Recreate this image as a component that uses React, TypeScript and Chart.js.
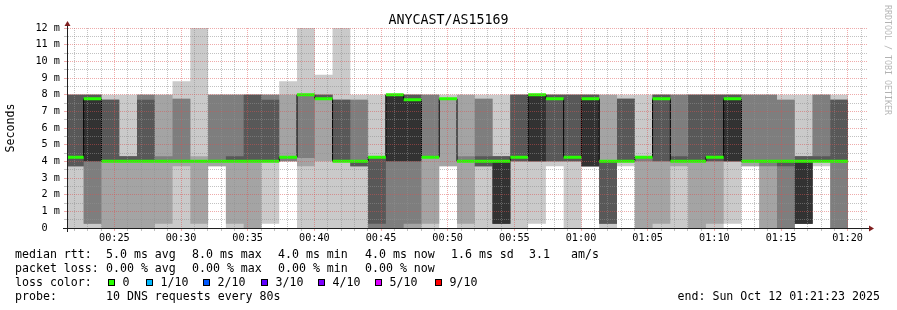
import React, { useEffect, useRef } from 'react';
import { Chart, registerables } from 'chart.js';

Chart.register(...registerables);

// ---------- data ----------
// start time of every 80 s probe round (bar)
const barStart = [
  '00:21:22', '00:22:42', '00:24:02', '00:25:22', '00:26:42', '00:28:02', '00:29:22', '00:30:42',
  '00:32:02', '00:33:22', '00:34:42', '00:36:02', '00:37:22', '00:38:42', '00:40:02', '00:41:22',
  '00:42:42', '00:44:02', '00:45:22', '00:46:42', '00:48:02', '00:49:22', '00:50:42', '00:52:02',
  '00:53:22', '00:54:42', '00:56:02', '00:57:22', '00:58:42', '01:00:02', '01:01:22', '01:02:42',
  '01:04:02', '01:05:22', '01:06:42', '01:08:02', '01:09:22', '01:10:42', '01:12:02', '01:13:22',
  '01:14:42', '01:16:02', '01:17:22', '01:18:42',
];
const lastBarEnd = '01:20:02';
const axisStart = '00:21:27';
const axisEnd = '01:21:27';

// sorted ping results (ms), rank 1 (fastest) .. rank 10 (slowest)
const ping1 = [0, 0, 0, 0, 0, 0, 0, 0, 3.7, 0, 0, 0.25, 4, 0, 0, 0, 0, 0, 0, 0, 0, 3.7, 0, 0, 0, 0, 0.25, 3.7, 0, 3.7, 0, 3.7, 0, 0, 0, 0, 0, 0.25, 3.7, 0, 0, 0.25, 3.7, 0];
const ping2 = [3.7, 0.25, 0, 0, 0, 0.25, 3.7, 0.25, 3.7, 0.25, 0, 4, 4, 3.7, 4, 4, 3.7, 0, 0, 0, 0.25, 3.7, 0.25, 3.7, 0.25, 4, 4, 4, 4, 3.7, 0.25, 4, 0, 0.25, 3.7, 0, 0.25, 4, 3.7, 0, 0, 0.25, 4, 0];
const ping3 = [3.7, 0.25, 4, 4, 4, 4, 4, 4, 4, 4, 4, 4, 4, 4.2, 7.7, 4, 3.7, 0, 0, 0.25, 4.3, 7.75, 4, 3.7, 0.25, 4, 4, 4, 4, 3.7, 0.25, 4, 4, 4, 4, 4, 4, 4, 4, 3.7, 0, 0.25, 4, 0];
const ping4 = [3.7, 4, 4, 4, 4, 4, 4, 4, 4, 4, 4, 4, 4.3, 8, 7.7, 4, 3.7, 0.25, 4, 4, 4.3, 7.75, 4, 3.7, 0.25, 4, 4, 4, 4, 3.7, 0.25, 4, 4.3, 4, 4, 4, 4, 4, 4, 4, 3.7, 0.25, 4, 4];
const ping5 = [4.3, 4, 4, 4, 4, 4, 4, 4, 4, 4, 4, 4, 4.3, 8, 7.7, 4, 4, 4.3, 4, 4, 4.3, 7.75, 4, 4, 0.25, 4.3, 4, 7.75, 4.3, 3.7, 4, 4, 4.3, 7.75, 4, 4, 4.3, 4, 4, 4, 4, 0.25, 4, 4];
const ping6 = [4.3, 7.75, 4, 4, 4, 4, 4, 4, 4, 4, 4, 4, 4.3, 8, 7.7, 4, 4, 4.3, 8, 7.7, 4.3, 7.75, 4, 4, 4, 4.3, 8, 7.75, 4.3, 7.75, 4, 4, 4.3, 7.75, 4, 4, 4.3, 7.75, 4, 4, 4, 4, 4, 4];
const ping7 = [8, 8, 7.7, 4.3, 7.7, 4, 4, 4, 4, 4.3, 8, 7.7, 4.3, 8, 8, 7.7, 4, 4.3, 8, 8, 4.3, 7.75, 4, 4.3, 4.3, 8, 8, 8, 8, 8, 4, 7.75, 4.3, 8, 4.3, 8, 8, 8, 4, 4, 4, 4.3, 4.3, 7.7];
const ping8 = [8, 8, 7.7, 4.3, 8, 4.3, 7.75, 4, 8, 8, 8, 8, 4.3, 8, 8, 7.7, 7.7, 4.3, 8, 8, 8, 7.75, 4.3, 7.75, 4.3, 8, 8, 8, 8, 8, 4, 7.75, 4.3, 8, 8, 8, 8, 8, 8, 8, 7.7, 4.3, 8, 7.7];
const ping9 = [8, 8, 7.7, 4.3, 8, 8, 7.75, 4.3, 8, 8, 8, 8, 8, 8, 8, 7.7, 7.7, 4.3, 8, 8, 8, 7.75, 8, 7.75, 4.3, 8, 8, 8, 8, 8, 8, 7.75, 4.3, 8, 8, 8, 8, 8, 8, 8, 7.7, 4.3, 8, 7.7];
const ping10 = [8, 8, 8, 8, 8, 8, 8.8, 12, 8, 8, 8, 8, 8.8, 12, 9.2, 12, 8, 8, 8, 8, 8, 8, 8, 8, 8, 8, 8, 8, 8, 8, 8, 8, 8, 8, 8, 8, 8, 8, 8, 8, 8, 8, 8, 8];
// median rtt (ms) of every round
const median = [4.25, 7.75, 4, 4, 4, 4, 4, 4, 4, 4, 4, 4, 4.25, 8, 7.75, 4, 4, 4.25, 8, 7.7, 4.25, 7.75, 4, 4, 4, 4.25, 8, 7.75, 4.25, 7.75, 4, 4, 4.25, 7.75, 4, 4, 4.25, 7.75, 4, 4, 4, 4, 4, 4];

// axis tick labels
const yTickLabels = ['0  ', '1 m', '2 m', '3 m', '4 m', '5 m', '6 m', '7 m', '8 m', '9 m', '10 m', '11 m', '12 m'];
const xTickLabels = ['00:25', '00:30', '00:35', '00:40', '00:45', '00:50', '00:55', '01:00', '01:05', '01:10', '01:15', '01:20'];

// legend texts
const titleText = 'ANYCAST/AS15169';
const rttLine = ['median rtt:', '5.0 ms avg', '8.0 ms max', '4.0 ms min', '4.0 ms now', '1.6 ms sd', '3.1', 'am/s'];
const lossLine = ['packet loss:', '0.00 % avg', '0.00 % max', '0.00 % min', '0.00 % now'];
const lossColorLabel = 'loss color:';
const lossColors = ['#26ff00', '#00b8ff', '#0059ff', '#5e00ff', '#7e00ff', '#dd00ff', '#ff0000'];
const lossLabels = ['0', '1/10', '2/10', '3/10', '4/10', '5/10', '9/10'];
const probeLine = ['probe:', '10 DNS requests every 80s'];
const endText = 'end: Sun Oct 12 01:21:23 2025';
const creditText = 'RRDTOOL / TOBI OETIKER';

// ---------- styling ----------
const FONT = "'DejaVu Sans Mono', monospace";
const smokeColors = ['#cacaca', '#a4a4a4', '#7e7e7e', '#585858', '#323232'];
const MINOR_GRID = 'rgba(143,143,143,0.55)';
const MAJOR_GRID = 'rgba(222,79,79,0.48)';

const toSec = (t: string) => {
  const [h, m, s] = t.split(':').map(Number);
  return h * 3600 + m * 60 + s;
};

const edges = [...barStart.map(toSec), toSec(lastBarEnd)];
const stepData = (vals: number[]) =>
  edges.map((x, i) => ({ x, y: vals[Math.min(i, vals.length - 1)] }));

const pings = [ping1, ping2, ping3, ping4, ping5, ping6, ping7, ping8, ping9, ping10];
const majorSecs = xTickLabels.map((l) => toSec(l + ':00'));
const minuteTicks: number[] = [];
for (let s = Math.ceil(toSec(axisStart) / 60) * 60; s <= toSec(axisEnd); s += 60) minuteTicks.push(s);
const yTicks: number[] = [];
for (let i = 0; i < yTickLabels.length * 2 - 1; i++) yTicks.push(i / 2);

const decorPlugin = {
  id: 'rrdDecor',
  afterDraw(chart: any) {
    const ctx: CanvasRenderingContext2D = chart.ctx;
    const a = chart.chartArea;
    ctx.save();
    // axes
    ctx.strokeStyle = '#1f1f1f';
    ctx.lineWidth = 1;
    ctx.beginPath();
    ctx.moveTo(a.left - 4, a.bottom + 0.5);
    ctx.lineTo(a.right + 4, a.bottom + 0.5);
    ctx.moveTo(a.left + 0.5, a.bottom + 4);
    ctx.lineTo(a.left + 0.5, a.top - 4);
    ctx.stroke();
    // arrows
    ctx.fillStyle = '#801f1f';
    ctx.beginPath();
    ctx.moveTo(a.right + 2, a.bottom - 2.5);
    ctx.lineTo(a.right + 2, a.bottom + 3.5);
    ctx.lineTo(a.right + 7, a.bottom + 0.5);
    ctx.closePath();
    ctx.fill();
    ctx.beginPath();
    ctx.moveTo(a.left - 2.5, a.top - 2);
    ctx.lineTo(a.left + 3.5, a.top - 2);
    ctx.lineTo(a.left + 0.5, a.top - 7);
    ctx.closePath();
    ctx.fill();

    // title
    ctx.fillStyle = '#000';
    ctx.textBaseline = 'alphabetic';
    ctx.textAlign = 'center';
    ctx.font = `13.3px ${FONT}`;
    ctx.fillText(titleText, 448.5, 24);

    // legend
    ctx.textAlign = 'left';
    ctx.font = `11.6px ${FONT}`;
    const rttX = [15, 106, 192, 278, 365, 451, 529, 571];
    rttLine.forEach((t, i) => ctx.fillText(t, rttX[i], 258));
    const lossX = [15, 106, 192, 278, 365];
    lossLine.forEach((t, i) => ctx.fillText(t, lossX[i], 272));
    ctx.fillText(lossColorLabel, 15, 286);
    const boxX = [108, 146, 203, 261, 318, 375, 435];
    lossColors.forEach((c, i) => {
      ctx.fillStyle = c;
      ctx.fillRect(boxX[i], 279, 7, 7);
      ctx.strokeStyle = '#000';
      ctx.strokeRect(boxX[i] + 0.5, 279.5, 6, 6);
      ctx.fillStyle = '#000';
      ctx.fillText(lossLabels[i], boxX[i] + 14.5, 286);
    });
    ctx.fillText(probeLine[0], 15, 300);
    ctx.fillText(probeLine[1], 106, 300);
    ctx.fillText(endText, 677.5, 300);

    // credit
    ctx.translate(884.5, 5);
    ctx.rotate(Math.PI / 2);
    ctx.font = `8.3px ${FONT}`;
    ctx.fillStyle = 'rgba(0,0,0,0.3)';
    ctx.fillText(creditText, 0, 0);
    ctx.restore();
  },
};

export default function App() {
  const ref = useRef<HTMLCanvasElement | null>(null);

  useEffect(() => {
    if (!ref.current) return;
    const datasets: any[] = [];
    for (let b = 0; b < 5; b++) {
      const lowerIdx = datasets.length;
      datasets.push({
        data: stepData(pings[b]),
        stepped: true,
        borderWidth: 0,
        borderColor: 'rgba(0,0,0,0)',
        pointRadius: 0,
        fill: false,
        order: 100 - b * 10,
      });
      datasets.push({
        data: stepData(pings[9 - b]),
        stepped: true,
        borderWidth: 0,
        borderColor: 'rgba(0,0,0,0)',
        backgroundColor: smokeColors[b],
        pointRadius: 0,
        fill: lowerIdx,
        order: 100 - b * 10,
      });
    }
    // thin dark median step line
    datasets.push({
      data: stepData(median),
      stepped: true,
      borderWidth: 1,
      borderColor: '#000000',
      pointRadius: 0,
      fill: false,
      order: 2,
    });
    // loss-coloured median segments (all rounds 0 loss)
    const greenData: any[] = [];
    median.forEach((m, i) => {
      greenData.push({ x: edges[i], y: m }, { x: edges[i + 1], y: m }, { x: edges[i + 1], y: null });
    });
    datasets.push({
      data: greenData,
      borderWidth: 3,
      borderColor: lossColors[0],
      pointRadius: 0,
      fill: false,
      spanGaps: false,
      order: 1,
    });

    const chart = new Chart(ref.current, {
      type: 'line',
      data: { datasets },
      plugins: [decorPlugin],
      options: {
        responsive: false,
        animation: false,
        devicePixelRatio: 1,
        layout: { padding: { left: 0, top: 28, right: 30, bottom: 0 } },
        plugins: {
          legend: { display: false },
          tooltip: { enabled: false },
          title: { display: false },
        },
        elements: { point: { radius: 0 }, line: { tension: 0 } },
        scales: {
          x: {
            type: 'linear',
            min: toSec(axisStart),
            max: toSec(axisEnd),
            afterBuildTicks: (s: any) => {
              s.ticks = minuteTicks.map((v) => ({ value: v }));
            },
            afterFit: (s: any) => {
              s.height = 82;
            },
            ticks: {
              autoSkip: false,
              maxRotation: 0,
              minRotation: 0,
              padding: 1,
              color: '#000',
              font: { family: FONT, size: 10.2 },
              callback: (v: any) => {
                const i = majorSecs.indexOf(Number(v));
                return i >= 0 ? xTickLabels[i] : '';
              },
            },
            grid: {
              z: 1,
              lineWidth: 1,
              drawTicks: true,
              tickLength: 3,
              color: (c: any) => (c.tick && majorSecs.includes(c.tick.value) ? MAJOR_GRID : MINOR_GRID),
              tickColor: (c: any) => (c.tick && majorSecs.includes(c.tick.value) ? MAJOR_GRID : MINOR_GRID),
            },
            border: { display: true, color: '#1f1f1f', dash: [1, 1], z: 2 },
          },
          y: {
            type: 'linear',
            min: 0,
            max: 12,
            afterBuildTicks: (s: any) => {
              s.ticks = yTicks.map((v) => ({ value: v }));
            },
            afterFit: (s: any) => {
              s.width = 67;
            },
            ticks: {
              autoSkip: false,
              padding: 4,
              color: '#000',
              font: { family: FONT, size: 10.2 },
              callback: (v: any) => {
                const n = Number(v);
                return Number.isInteger(n) ? yTickLabels[n] : '';
              },
            },
            grid: {
              z: 1,
              lineWidth: 1,
              drawTicks: true,
              tickLength: 3,
              color: (c: any) => (c.tick && Number.isInteger(c.tick.value) ? MAJOR_GRID : MINOR_GRID),
              tickColor: (c: any) => (c.tick && Number.isInteger(c.tick.value) ? MAJOR_GRID : MINOR_GRID),
            },
            border: { display: true, color: '#1f1f1f', dash: [1, 1], z: 2 },
            title: {
              display: true,
              text: 'Seconds',
              color: '#000',
              font: { family: FONT, size: 11.6 },
              padding: { top: 4, bottom: 0 },
            },
          },
        },
      } as any,
    });
    return () => chart.destroy();
  }, []);

  return (
    <div style={{ position: 'fixed', left: 0, top: 0, width: 897, height: 310, background: '#fff' }}>
      <canvas ref={ref} width={897} height={310} style={{ width: 897, height: 310, display: 'block' }} />
    </div>
  );
}
